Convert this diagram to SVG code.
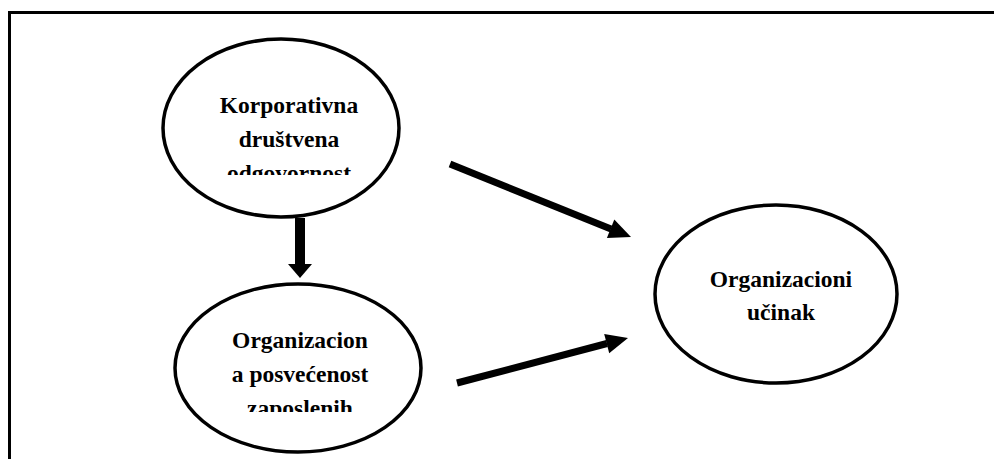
<svg xmlns="http://www.w3.org/2000/svg" width="994" height="459" viewBox="0 0 994 459">
<style>
.node{fill:#fff;stroke:#000;stroke-width:3.5}
.lbl{font-family:"Liberation Serif","Times New Roman",serif;font-weight:bold;font-size:23.5px;fill:#000;text-anchor:middle}
.conn{stroke:#000;stroke-width:7;fill:none}
.head{fill:#000}
</style>
<defs>
<clipPath id="c1"><rect x="150" y="30" width="260" height="145"/></clipPath>
<clipPath id="c2"><rect x="160" y="280" width="270" height="132"/></clipPath>
</defs>
<rect width="994" height="459" fill="#fff"/>
<path d="M9.5,459 V12.5 H994" fill="none" stroke="#000" stroke-width="3"/>
<g id="n1">
<ellipse class="node" cx="281" cy="128" rx="118" ry="89"/>
<g clip-path="url(#c1)">
<text class="lbl" x="289" y="113">Korporativna</text>
<text class="lbl" x="289" y="147">društvena</text>
<text class="lbl" x="289" y="181">odgovornost</text>
</g>
</g>
<g id="n2">
<ellipse class="node" cx="298" cy="368" rx="123" ry="84"/>
<g clip-path="url(#c2)">
<text class="lbl" x="300" y="348">Organizacion</text>
<text class="lbl" x="300" y="382">a posvećenost</text>
<text class="lbl" x="300" y="416">zaposlenih</text>
</g>
</g>
<g id="n3">
<ellipse class="node" cx="776" cy="294" rx="121" ry="89"/>
<text class="lbl" x="781" y="287">Organizacioni</text>
<text class="lbl" x="781" y="320">učinak</text>
</g>
<g id="connectors">
<path d="M300,218 V265" stroke="#000" stroke-width="10" fill="none"/>
<path class="head" d="M288,264 H312 L300,278 Z"/>
<line class="conn" x1="450" y1="164" x2="611" y2="229"/>
<path class="head" d="M631,237 L606.9,238.1 L614.3,219.5 Z"/>
<line class="conn" x1="457" y1="383" x2="607" y2="343.5"/>
<path class="head" d="M628,338 L609.2,353.3 L604.2,333.9 Z"/>
</g>
</svg>
